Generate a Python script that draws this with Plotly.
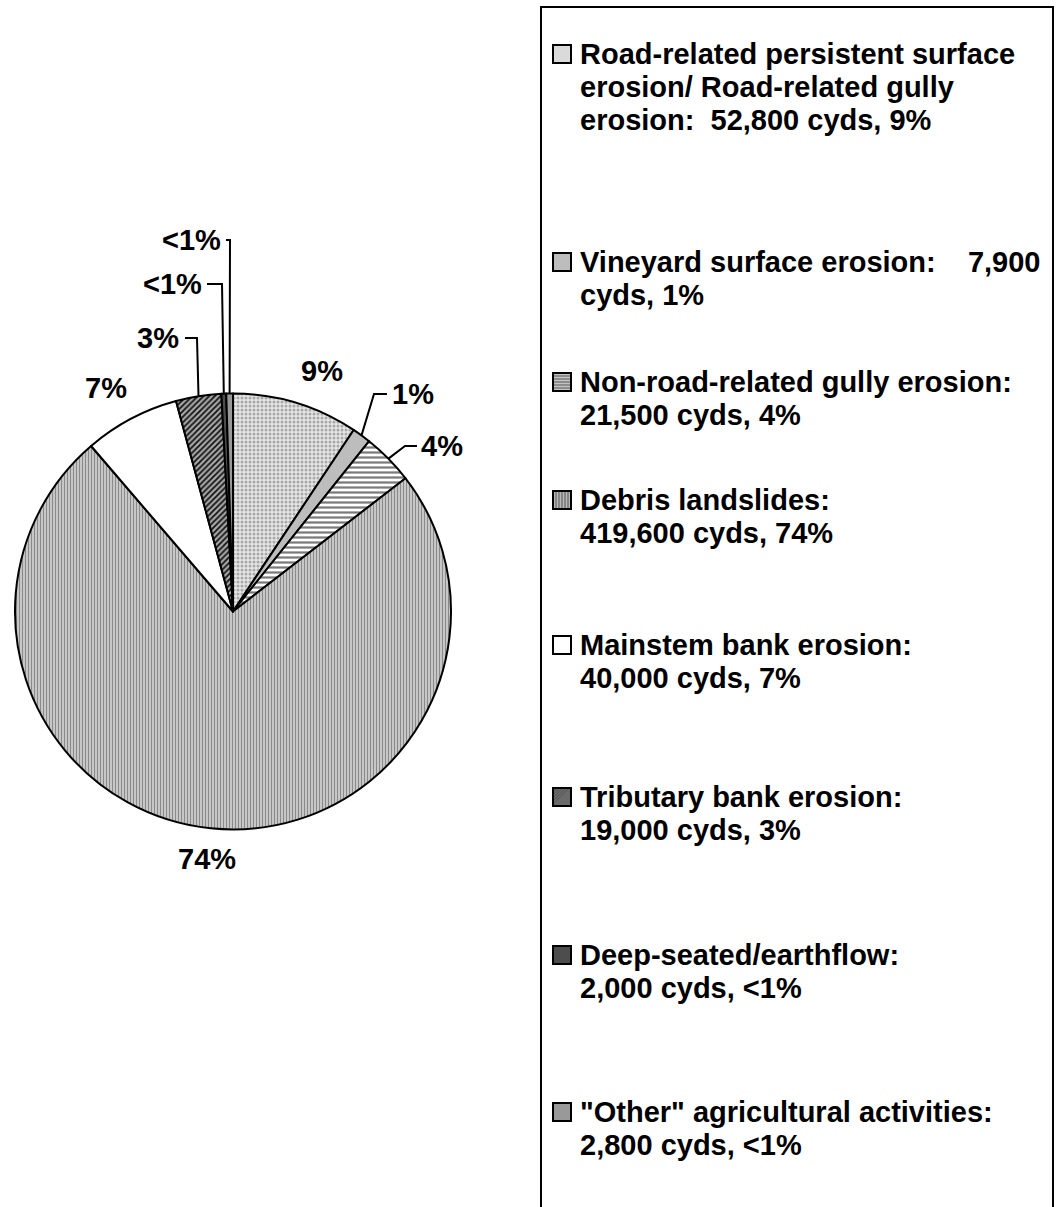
import math
import plotly.graph_objects as go

W, H = 1057, 1207

# ---- data ----
categories = [
    "Road-related persistent surface erosion/ Road-related gully erosion",
    "Vineyard surface erosion",
    "Non-road-related gully erosion",
    "Debris landslides",
    "Mainstem bank erosion",
    "Tributary bank erosion",
    "Deep-seated/earthflow",
    '"Other" agricultural activities',
]
volumes_cyds = [52800, 7900, 21500, 419600, 40000, 19000, 2000, 2800]
pct_labels = ["9%", "1%", "4%", "74%", "7%", "3%", "<1%", "<1%"]
legend_lines = [
    ["Road-related persistent surface", "erosion/ Road-related gully", "erosion:  52,800 cyds, 9%"],
    ["Vineyard surface erosion:    7,900", "cyds, 1%"],
    ["Non-road-related gully erosion:", "21,500 cyds, 4%"],
    ["Debris landslides:", "419,600 cyds, 74%"],
    ["Mainstem bank erosion:", "40,000 cyds, 7%"],
    ["Tributary bank erosion:", "19,000 cyds, 3%"],
    ["Deep-seated/earthflow:", "2,000 cyds, <1%"],
    ['"Other" agricultural activities:', "2,800 cyds, <1%"],
]

# ---- styles ----
base_colors = ["#e6e6e6", "#bdbdbd", "#ffffff", "#d4d4d4", "#ffffff", "#a8a8a8", "#4d4d4d", "#999999"]
pat_shapes = [".", "", "-", "|", "", "/", "", ""]
pat_fg = ["#a8a8a8", "#bdbdbd", "#7a7a7a", "#8a8a8a", "#ffffff", "#111111", "#4d4d4d", "#999999"]
pat_size = [4, 8, 5, 3, 8, 4, 8, 8]
swatch_colors = ["#dadada", "#bdbdbd", "#c4c4c4", "#b8b8b8", "#ffffff", "#6a6a6a", "#4d4d4d", "#999999"]

FONT = "Liberation Sans, Arial, sans-serif"
FS = 29

# pie geometry (pixels)
CX, CY, R = 233, 611.5, 218

def px(x):
    return x / W

def py(y):
    return 1 - y / H

fig = go.Figure()
fig.add_trace(go.Pie(
    labels=categories,
    values=volumes_cyds,
    sort=False,
    direction="clockwise",
    rotation=0,
    textinfo="none",
    hoverinfo="label+value+percent",
    showlegend=False,
    marker=dict(
        colors=base_colors,
        line=dict(color="black", width=2),
        pattern=dict(shape=pat_shapes, fgcolor=pat_fg, bgcolor=base_colors,
                     size=pat_size, solidity=0.45, fillmode="replace"),
    ),
    domain=dict(x=[px(CX - R), px(CX + R)], y=[py(CY + R), py(CY - R)]),
))

# ---- slice labels ----
total = sum(volumes_cyds)
mids = []
acc = 0
for v in volumes_cyds:
    mids.append((acc + v / 2) / total * 360.0)
    acc += v

# label anchor (x, y, xanchor) and optional leader elbows (layout)
label_pos = [(322, 371, "center"), (390, 394, "left"), (419, 446, "left"), (207, 859, "center"),
             (106, 388, "center"), (181, 338, "right"), (204, 284, "right"), (223, 240, "right")]
elbow = [None, ((374, 394), (387, 394)), ((405, 446), (417, 446)), None, None,
         ((197, 338), (185, 338)), ((222, 284), (207, 284)), ((230, 240), (226, 240))]

annotations = []
shapes = []
for i, lab in enumerate(pct_labels):
    x, y, xa = label_pos[i]
    annotations.append(dict(x=px(x), y=py(y), xref="paper", yref="paper", text=lab,
                            showarrow=False, xanchor=xa, yanchor="middle",
                            font=dict(family=FONT, size=FS, color="black", weight="bold")))
    if elbow[i] is not None:
        a = math.radians(mids[i])
        sx = CX + R * math.sin(a)
        sy = CY - R * math.cos(a)
        (ex, ey), (hx, hy) = elbow[i]
        path = f"M {px(sx)} {py(sy)} L {px(ex)} {py(ey)} L {px(hx)} {py(hy)}"
        shapes.append(dict(type="path", path=path, xref="paper", yref="paper",
                           line=dict(color="black", width=2)))

# ---- manual legend ----
BOX_L, BOX_T, BOX_R, BOX_B = 541, 7, 1053, 1240
shapes.append(dict(type="rect", xref="paper", yref="paper",
                   x0=px(BOX_L), x1=px(BOX_R), y0=py(BOX_B), y1=py(BOX_T),
                   line=dict(color="black", width=2), fillcolor="rgba(0,0,0,0)"))

first_line_y = [54, 262, 382, 500, 645, 797, 955, 1112]
LINE_GAP = 33
SW_L, SW = 553, 18
TEXT_L = 578
for i, lines in enumerate(legend_lines):
    y0 = first_line_y[i]
    sx0, sy0 = SW_L, y0 - SW / 2
    shapes.append(dict(type="rect", xref="paper", yref="paper",
                       x0=px(sx0), x1=px(sx0 + SW), y0=py(sy0 + SW), y1=py(sy0),
                       fillcolor=swatch_colors[i], line=dict(color="black", width=2)))
    shp = pat_shapes[i]
    if shp in ("-", "|", "/"):
        step = 3
        k = step
        while k < SW:
            if shp == "-":
                seg = (sx0 + 1, sy0 + k, sx0 + SW - 1, sy0 + k)
            elif shp == "|":
                seg = (sx0 + k, sy0 + 1, sx0 + k, sy0 + SW - 1)
            else:
                seg = (sx0 + 1, sy0 + k, sx0 + k, sy0 + 1)
            shapes.append(dict(type="line", xref="paper", yref="paper",
                               x0=px(seg[0]), y0=py(seg[1]), x1=px(seg[2]), y1=py(seg[3]),
                               line=dict(color="#555555", width=1)))
            k += step
    for j, t in enumerate(lines):
        annotations.append(dict(x=px(TEXT_L), y=py(y0 + j * LINE_GAP), xref="paper", yref="paper",
                                text=t, showarrow=False, xanchor="left", yanchor="middle",
                                font=dict(family=FONT, size=FS, color="black", weight="bold")))

fig.update_layout(
    width=W, height=H,
    margin=dict(l=0, r=0, t=0, b=0),
    paper_bgcolor="white", plot_bgcolor="white",
    shapes=shapes, annotations=annotations,
    showlegend=False,
)

fig.write_html("out.html", config={"displayModeBar": False},
               post_script="document.body.style.margin='0';document.body.style.overflow='hidden';")
